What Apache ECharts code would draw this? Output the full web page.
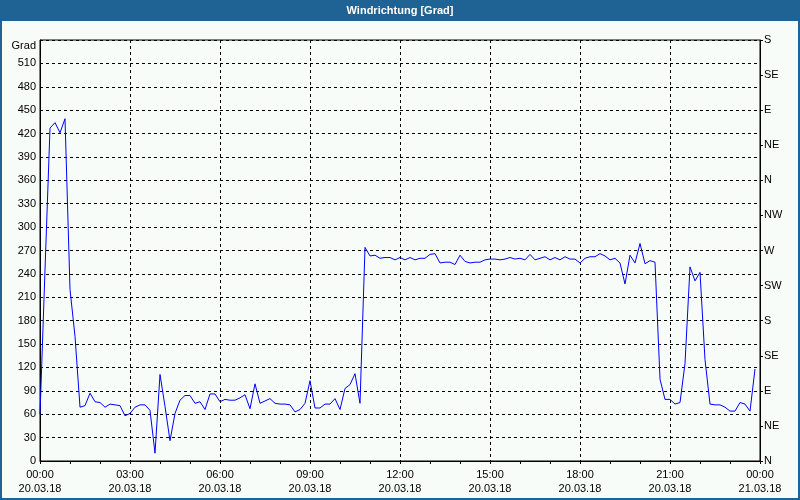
<!DOCTYPE html>
<html>
<head>
<meta charset="utf-8">
<script src="https://cdn.jsdelivr.net/npm/echarts@6/dist/echarts.min.js"></script>
<style>
html,body{margin:0;padding:0;background:#f8fcf8;}
#chart{width:800px;height:500px;}
</style>
</head>
<body>
<div id="chart"></div>
<script>
// Wind direction in degrees, one value every 10 minutes from 20.03.18 00:00 to 23:50
var windDir = [
  60, 245, 427, 434, 421, 439, 220, 160, 69, 71,
  87, 76, 75, 69, 73, 72, 71, 58, 61, 69,
  72, 72, 65, 10, 111, 70, 26, 61, 78, 84,
  84, 74, 76, 66, 86, 86, 76, 79, 78, 78,
  81, 85, 67, 99, 74, 77, 80, 74, 73, 73,
  72, 63, 66, 74, 103, 68, 68, 73, 73, 80,
  66, 93, 98, 112, 74, 274, 263, 264, 260, 261,
  261, 258, 261, 258, 261, 258, 260, 260, 265, 266,
  254, 255, 255, 252, 264, 256, 254, 255, 255, 258,
  259, 259, 258, 259, 261, 259, 260, 258, 265, 258,
  260, 262, 258, 261, 258, 262, 259, 259, 254, 260,
  262, 262, 266, 263, 258, 260, 254, 227, 264, 254,
  279, 253, 257, 255, 105, 79, 79, 73, 75, 125,
  249, 231, 242, 130, 73, 72, 72, 69, 64, 64,
  75, 73, 64, 118
];
var stepMinutes = 10;
var xTickTimes = ['00:00','03:00','06:00','09:00','12:00','15:00','18:00','21:00','00:00'];
var xTickDates = ['20.03.18','20.03.18','20.03.18','20.03.18','20.03.18','20.03.18','20.03.18','20.03.18','21.03.18'];
var compassLabels = ['N','NE','E','SE','S','SW','W','NW','N','NE','E','SE','S'];
var titleText = 'Windrichtung [Grad]';
var unitText = 'Grad';

var FONT = "'Liberation Sans', Arial, sans-serif";
var chart = echarts.init(document.getElementById('chart'), null, {renderer:'canvas'});
var seriesData = windDir.map(function(v,i){ return [i*stepMinutes, v]; });

chart.setOption({
  backgroundColor: '#f8fcf8',
  animation: false,
  textStyle: {fontFamily: FONT},
  graphic: [
    {type:'rect', shape:{x:0,y:0,width:800,height:21}, style:{fill:'#1f6394'}, z:10},
    {type:'text', x:400, y:11, style:{text:titleText, fill:'#ffffff', font:'bold 11px '+FONT, textAlign:'center', textVerticalAlign:'middle'}, z:11},
    {type:'rect', shape:{x:1,y:1,width:798,height:498}, style:{fill:'none', stroke:'#1f6394', lineWidth:2}, z:10},
    {type:'text', x:36, y:46, style:{text:unitText, fill:'#000', font:'11px '+FONT, textAlign:'right', textVerticalAlign:'middle'}, z:11}
  ],
  grid: {left:40, right:40, top:40, bottom:39, show:true, borderColor:'#000', borderWidth:1, backgroundColor:'transparent'},
  xAxis: {
    type:'value', min:0, max:1440, interval:180,
    axisLine:{show:true, lineStyle:{color:'#000', width:1}},
    axisTick:{show:true, length:3, lineStyle:{color:'#000'}},
    minorTick:{show:true, splitNumber:3, length:3, lineStyle:{color:'#000'}},
    splitLine:{show:true, lineStyle:{color:'#000', type:[3,3], width:1}},
    axisLabel:{
      color:'#000', fontSize:11, fontFamily:FONT, lineHeight:14, margin:7,
      formatter:function(v){ var k=Math.round(v/180); return xTickTimes[k]+'\n'+xTickDates[k]; }
    }
  },
  yAxis: [
    {
      type:'value', min:0, max:540, interval:30, position:'left',
      axisLine:{show:true, lineStyle:{color:'#000'}},
      axisTick:{show:false},
      splitLine:{show:true, lineStyle:{color:'#000', type:[3,3], width:1}},
      axisLabel:{color:'#000', fontSize:11, fontFamily:FONT, margin:4,
        formatter:function(v){ return v===540 ? '' : String(v); }}
    },
    {
      type:'value', min:0, max:540, interval:45, position:'right',
      axisLine:{show:true, lineStyle:{color:'#000'}},
      axisTick:{show:true, length:3, lineStyle:{color:'#000'}},
      splitLine:{show:false},
      axisLabel:{color:'#000', fontSize:11, fontFamily:FONT, margin:4,
        formatter:function(v){ return compassLabels[Math.round(v/45)]; }}
    }
  ],
  series: [{
    type:'line', yAxisIndex:0, data:seriesData, showSymbol:false, symbol:'none',
    lineStyle:{color:'#0000ff', width:1}, z:5
  }]
});
</script>
</body>
</html>
